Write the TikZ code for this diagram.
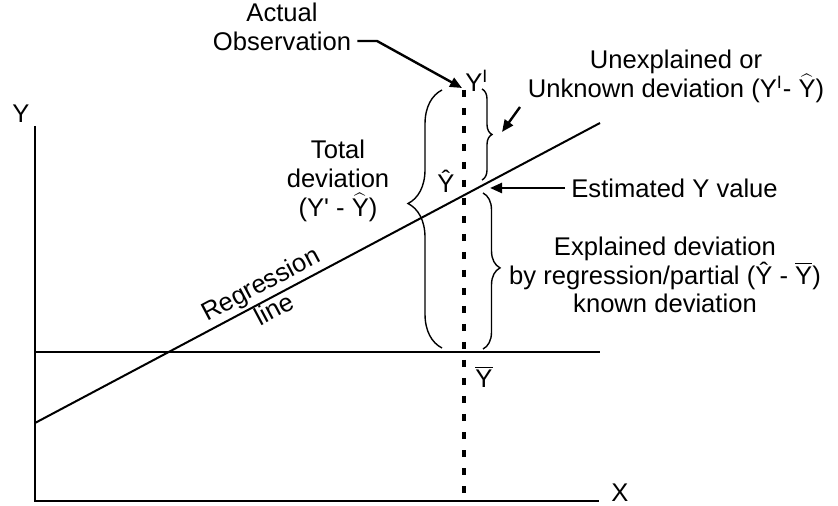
\documentclass[tikz,border=0pt]{standalone}
\usepackage{fontspec}
\setmainfont{Liberation Sans}
\usetikzlibrary{arrows.meta, decorations.pathreplacing}

\begin{document}
\begin{tikzpicture}[x=0.5pt, y=-0.5pt,
    lbl/.style={font=\fontsize{12.8}{14.4}\selectfont, inner sep=0pt, align=center},
    axis/.style={line width=1pt},
    ptr/.style={line width=1.2pt, -{Triangle[length=6pt,width=5pt]}},
    brc/.style={decorate, line width=0.7pt, decoration={brace, amplitude=#1}},
  ]
  \useasboundingbox (0,0) rectangle (838,506);
  % axes
  \coordinate (o) at (35,501);
  \coordinate (ytop) at (35,126);
  \coordinate (xend) at (599,501);
  \draw[axis] (ytop) -- (o) -- (xend);
  \node[lbl] (ylab) at (21,114) {Y};
  \node[lbl] (xlab) at (620,493) {X};
  % mean line and regression line
  \coordinate (m0) at (35,352);
  \coordinate (m1) at (600,352);
  \draw[axis] (m0) -- (m1);
  \coordinate (r0) at (35,423);
  \coordinate (r1) at (600,123);
  \draw[axis] (r0) -- (r1);
  \node[lbl, rotate=28] (regline) at (267,296) {Regression\\line};
  % observation
  \coordinate (obs) at (464,90);
  \coordinate (foot) at (464,501);
  \draw[line width=1.6pt, dash pattern=on 3.5pt off 5.5pt] (obs) -- (foot);
  \node[lbl, anchor=west] (yobs) at (465,81) {Y\textsuperscript{I}};
  \node[lbl, anchor=base] (yhat) at (446,193) {\^{Y}};
  \node[lbl, anchor=base] (ybar) at (484,388) {$\overline{\mbox{Y}}$};
  % braces
  \draw[brc=17pt, decoration={aspect=0.56}] (442,348) -- (442,90);
  \draw[brc=5pt, decoration={aspect=0.5}] (482,89) -- (482,180);
  \draw[brc=8.5pt, decoration={aspect=0.48}] (483,193) -- (483,349);
  % labels
  \node[lbl] (actobs) at (282,27) {Actual\\Observation};
  \coordinate (kink) at (377,41);
  \coordinate (tip1) at (462,88);
  \draw[ptr] ([xshift=3pt]actobs.east |- kink) -- (kink) -- (tip1);
  \node[lbl] (unexp) at (676,76) {Unexplained or\\Unknown deviation (Y\textsuperscript{I}- $\widehat{\mbox{Y}}$)};
  \coordinate (u0) at (520,107);
  \coordinate (u1) at (502,132);
  \draw[ptr] (u0) -- (u1);
  \node[lbl, anchor=west] (est) at (571,188) {Estimated Y value};
  \coordinate (e1) at (490,188);
  \draw[ptr] ([xshift=-3pt]est.west) -- (e1);
  \node[lbl] (total) at (338,181) {Total\\deviation\\(Y\textquotesingle{} - $\widehat{\mbox{Y}}$)};
  \node[lbl] (expl) at (665,275) {Explained deviation\\by regression/partial (\^{Y} - $\overline{\mbox{Y}}$)\\known deviation};
\end{tikzpicture}
\end{document}
